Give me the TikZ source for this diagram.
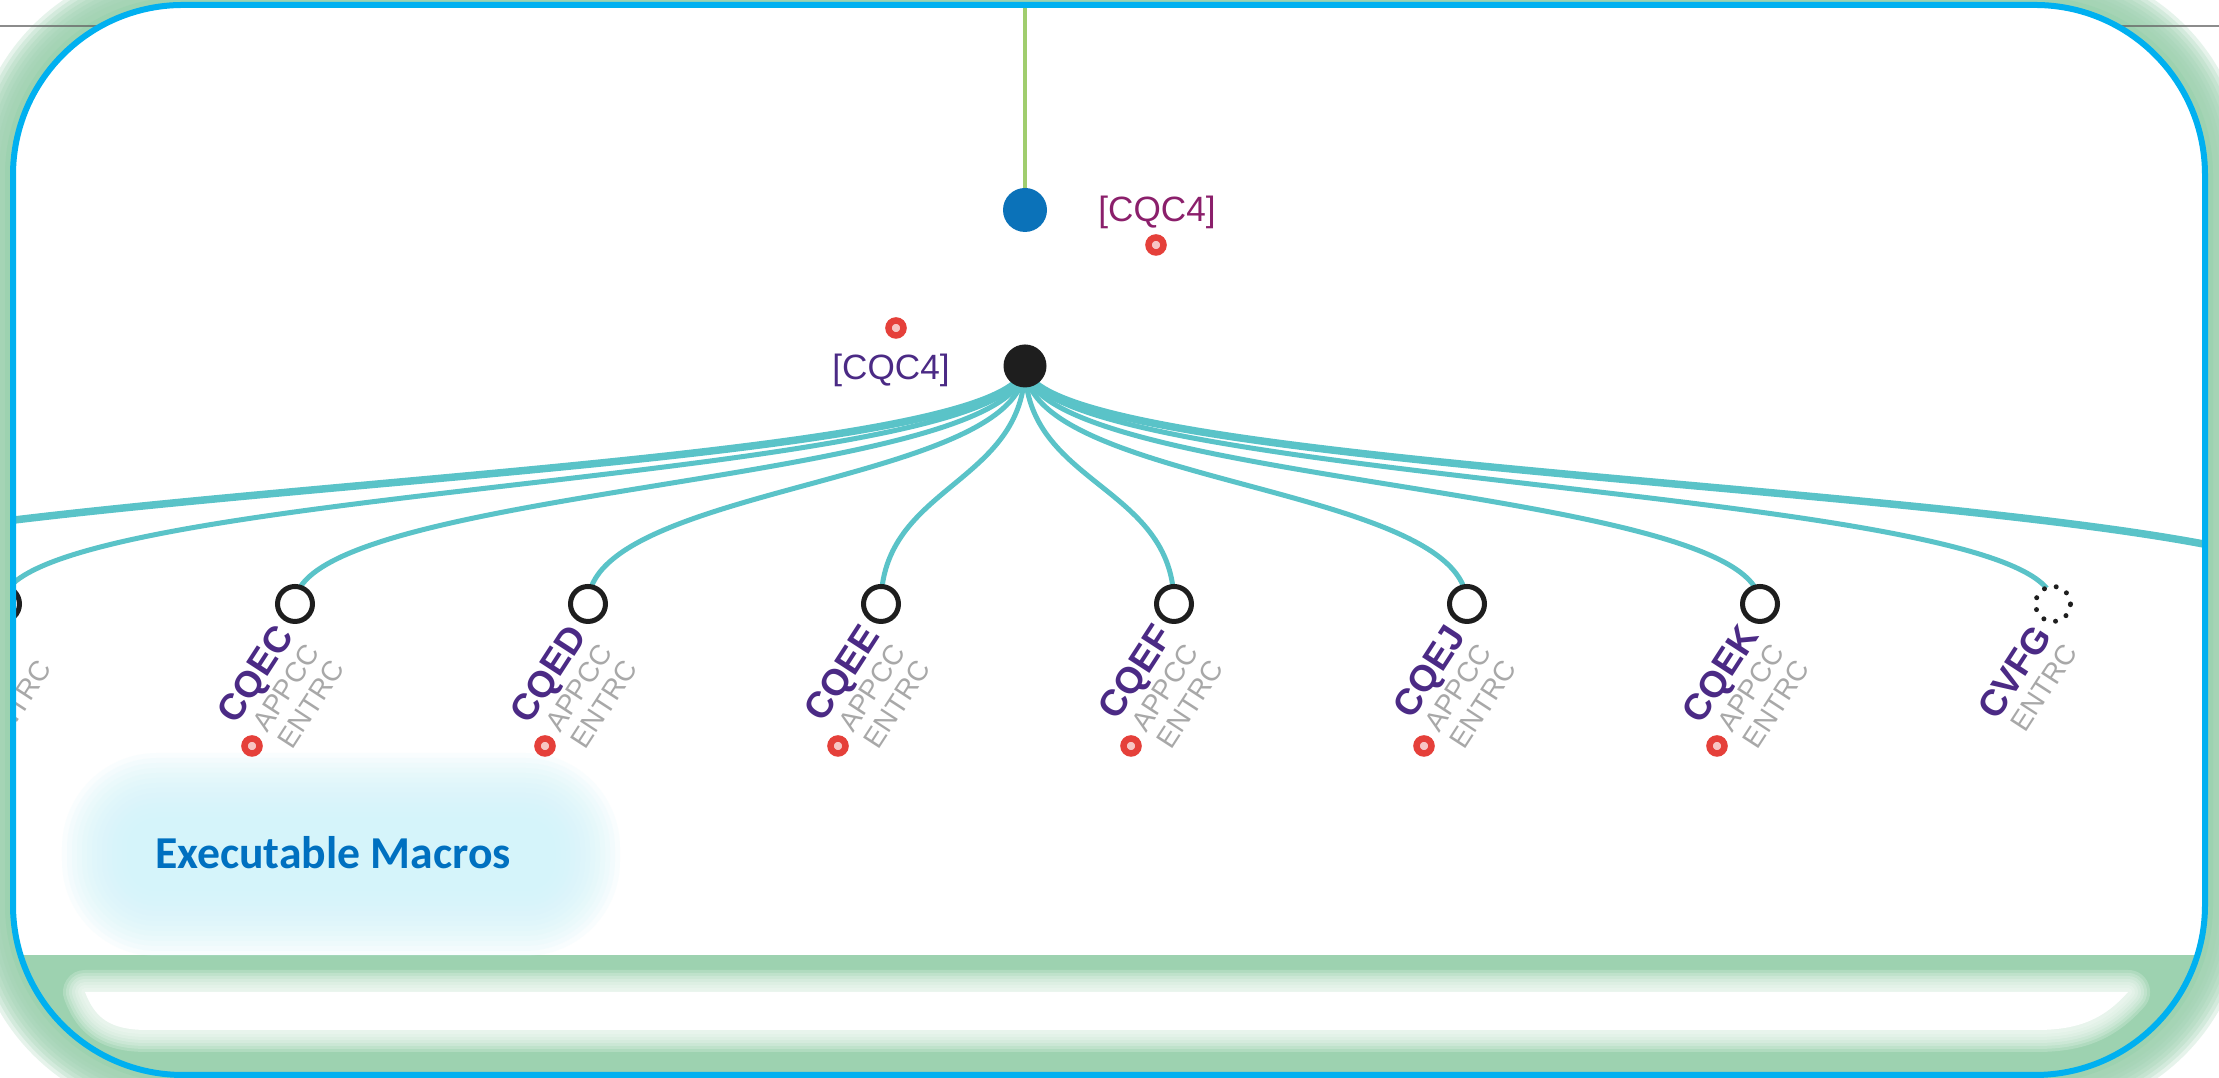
\documentclass[tikz,border=0pt]{standalone}
\usepackage{fontspec}
\setmainfont{Liberation Sans}
\newfontfamily\calibri{Carlito}
\usetikzlibrary{positioning}
\definecolor{frame}{HTML}{00B0F0}
\definecolor{mint}{HTML}{9DD2B0}
\definecolor{link}{HTML}{5AC3C8}
\definecolor{stem}{HTML}{A0CD6E}
\definecolor{rootblue}{HTML}{0B72B9}
\definecolor{hubblack}{HTML}{1E1E1E}
\definecolor{namepurple}{HTML}{4B2A85}
\definecolor{refmagenta}{HTML}{8B1F6B}
\definecolor{tagsgrey}{HTML}{A8A8A8}
\definecolor{badgered}{HTML}{E5403A}
\definecolor{macroblue}{HTML}{0070C0}
\definecolor{haze}{HTML}{D2F4FA}

\pgfdeclarelayer{back}
\pgfdeclarelayer{links}
\pgfsetlayers{back,links,main}

\newcommand{\leafname}[1]{{\fontsize{10.5}{8.5}\selectfont\bfseries\color{namepurple}#1}}

\tikzset{
  leaf/.style={circle, draw=hubblack, line width=0.05cm, fill=white, minimum size=0.35cm, inner sep=0pt},
  leafdots/.style={circle, draw=hubblack, line width=0.05cm, line cap=round, dash pattern=on 0pt off 3.45pt, fill=white, minimum size=0.35cm, inner sep=0pt},
  tags/.style={rotate=57, anchor=north east, align=right, inner sep=0pt, text=tagsgrey, font=\fontsize{8}{8.6}\selectfont},
  badge/.style={circle, draw=badgered, line width=0.065cm, fill=badgered!30!white, minimum size=0.15cm, inner sep=0pt},
  linkline/.style={link, line width=0.05cm},
  farlink/.style={link, line width=0.075cm},
  ref/.style={font=\fontsize{10}{12}\selectfont, inner sep=1pt},
}

\begin{document}
\begin{tikzpicture}
  \useasboundingbox (0,0) rectangle (22.19,10.78);

  \begin{pgfonlayer}{back}
    % soft green frame round the slide
    \fill[white] (0,0) rectangle (22.19,10.78);
    \foreach \d in {0.42,0.38,...,0.11}
      \fill[mint, opacity=0.25, rounded corners={1.7cm+\d cm}] (0.13-\d,0.03-\d) rectangle (22.05+\d,10.73+\d);
    \fill[mint, rounded corners=1.78cm] (0.05,-0.05) rectangle (22.13,10.81);
    \draw[black!60, line width=0.02cm, opacity=0.75] (0,10.52) -- (22.19,10.52);

    \begin{scope}
      \clip[rounded corners=1.7cm] (0.13,0.03) rectangle (22.05,10.73);
      \fill[white] (0,1.23) rectangle (22.19,10.78);
      % light strip inside the bottom band
      \foreach \w in {0.44,0.38,...,0.07}
        \draw[white, line width=\w cm, opacity=0.2, line join=round]
          (0.85,0.86) -- (21.28,0.86) .. controls (21.05,0.6) and (20.8,0.48) .. (20.37,0.48)
          -- (1.47,0.48) .. controls (1.1,0.48) and (0.95,0.6) .. (0.85,0.86) -- cycle;
      \fill[white] (0.85,0.86) -- (21.28,0.86) .. controls (21.05,0.6) and (20.8,0.48) .. (20.37,0.48)
          -- (1.47,0.48) .. controls (1.1,0.48) and (0.95,0.6) .. (0.85,0.86) -- cycle;
      % haze behind the caption
      \foreach \i in {0,...,13}
        \fill[haze, opacity=0.13, rounded corners={0.95cm-0.05cm*\i}] (0.62+0.05*\i,1.22+0.05*\i) rectangle (6.2-0.05*\i,3.25-0.05*\i);
    \end{scope}
  \end{pgfonlayer}

  \begin{scope}
    \clip[rounded corners=1.7cm] (0.13,0.03) rectangle (22.05,10.73);

    % root and hub
    \coordinate (stemtop) at (10.25,10.78);
    \node[circle, fill=rootblue, minimum size=0.44cm, inner sep=0pt] (root) at (10.25,8.68) {};
    \node[ref, text=refmagenta] (rootref) at (11.57,8.66) {[CQC4]};
    \node[badge] (rootbadge) at (11.56,8.33) {};
    \node[circle, fill=hubblack, minimum size=0.43cm, inner sep=0pt] (hub) at (10.25,7.12) {};
    \node[ref, text=namepurple] (hubref) at (8.91,7.08) {[CQC4]};
    \node[badge] (hubbadge) at (8.96,7.50) {};

    % leaves
    \coordinate (mid) at (0,5.93);
    \coordinate (westend) at (-2.91,4.74);
    \coordinate (eastend) at (23.46,4.74);
    \node[leaf] (cut) at (0.02,4.74) {};
    \node[leaf] (cqec) at (2.95,4.74) {};
    \node[leaf] (cqed) at (5.88,4.74) {};
    \node[leaf] (cqee) at (8.81,4.74) {};
    \node[leaf] (cqef) at (11.74,4.74) {};
    \node[leaf] (cqej) at (14.67,4.74) {};
    \node[leaf] (cqek) at (17.60,4.74) {};
    \node[leafdots] (cvfg) at (20.53,4.74) {};

    % leaf tags
    \node[tags] (cuttag) at ([shift={(-0.22,-0.17)}]cut.center) {\leafname{\phantom{Q}}\\\phantom{A}\\ENTRC};
    \node[tags] (cqectag) at ([shift={(-0.22,-0.17)}]cqec.center) {\leafname{CQEC}\\APPCC\\ENTRC};
    \node[tags] (cqedtag) at ([shift={(-0.22,-0.17)}]cqed.center) {\leafname{CQED}\\APPCC\\ENTRC};
    \node[tags] (cqeetag) at ([shift={(-0.22,-0.17)}]cqee.center) {\leafname{CQEE}\\APPCC\\ENTRC};
    \node[tags] (cqeftag) at ([shift={(-0.22,-0.17)}]cqef.center) {\leafname{CQEF}\\APPCC\\ENTRC};
    \node[tags] (cqejtag) at ([shift={(-0.22,-0.17)}]cqej.center) {\leafname{CQEJ}\\APPCC\\ENTRC};
    \node[tags] (cqektag) at ([shift={(-0.22,-0.17)}]cqek.center) {\leafname{CQEK}\\APPCC\\ENTRC};
    \node[tags] (cvfgtag) at ([shift={(-0.22,-0.17)}]cvfg.center) {\leafname{CVFG}\\ENTRC};

    % red markers under the tags
    \node[badge] (cqecbadge) at ([shift={(-0.43,-1.42)}]cqec.center) {};
    \node[badge] (cqedbadge) at ([shift={(-0.43,-1.42)}]cqed.center) {};
    \node[badge] (cqeebadge) at ([shift={(-0.43,-1.42)}]cqee.center) {};
    \node[badge] (cqefbadge) at ([shift={(-0.43,-1.42)}]cqef.center) {};
    \node[badge] (cqejbadge) at ([shift={(-0.43,-1.42)}]cqej.center) {};
    \node[badge] (cqekbadge) at ([shift={(-0.43,-1.42)}]cqek.center) {};

    % caption
    \node[text=macroblue, font=\calibri\bfseries\fontsize{13}{15}\selectfont] (caption) at (3.33,2.25) {Executable Macros};
  \end{scope}

  \begin{pgfonlayer}{links}
    \clip[rounded corners=1.7cm] (0.13,0.03) rectangle (22.05,10.73);
    \draw[stem, line width=0.045cm] (root.center) -- (stemtop);
    \draw[farlink] (hub.center) .. controls (hub.center |- mid) and (westend |- mid) .. (westend);
    \draw[linkline] (hub.center) .. controls (hub.center |- mid) and (cut.center |- mid) .. (cut.center);
    \draw[linkline] (hub.center) .. controls (hub.center |- mid) and (cqec.center |- mid) .. (cqec.center);
    \draw[linkline] (hub.center) .. controls (hub.center |- mid) and (cqed.center |- mid) .. (cqed.center);
    \draw[linkline] (hub.center) .. controls (hub.center |- mid) and (cqee.center |- mid) .. (cqee.center);
    \draw[linkline] (hub.center) .. controls (hub.center |- mid) and (cqef.center |- mid) .. (cqef.center);
    \draw[linkline] (hub.center) .. controls (hub.center |- mid) and (cqej.center |- mid) .. (cqej.center);
    \draw[linkline] (hub.center) .. controls (hub.center |- mid) and (cqek.center |- mid) .. (cqek.center);
    \draw[linkline] (hub.center) .. controls (hub.center |- mid) and (cvfg.center |- mid) .. (cvfg.center);
    \draw[farlink] (hub.center) .. controls (hub.center |- mid) and (eastend |- mid) .. (eastend);
  \end{pgfonlayer}

  % slide border
  \draw[frame, line width=0.06cm, rounded corners=1.7cm] (0.13,0.03) rectangle (22.05,10.73);
\end{tikzpicture}
\end{document}
